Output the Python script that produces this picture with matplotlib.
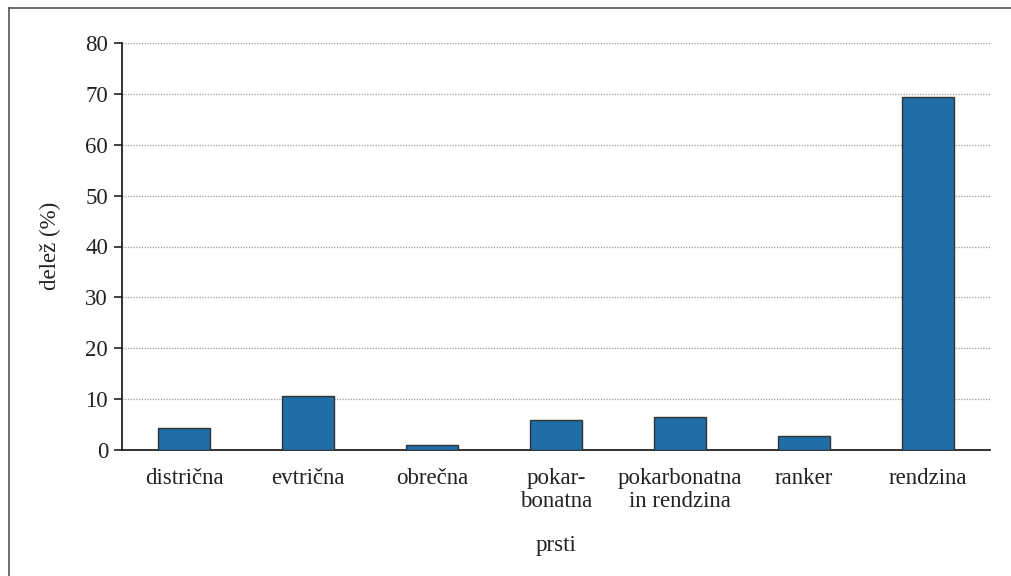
import matplotlib
matplotlib.use("Agg")
import matplotlib.pyplot as plt
from matplotlib.lines import Line2D

categories = ["distrična", "evtrična", "obrečna", "pokar-\nbonatna",
              "pokarbonatna\nin rendzina", "ranker", "rendzina"]
values = [4.3, 10.7, 1.0, 5.9, 6.5, 2.7, 69.4]
yticks = [0, 10, 20, 30, 40, 50, 60, 70, 80]

plt.rcParams['font.family'] = ['Liberation Serif', 'DejaVu Serif']

W, H = 1011, 576
fig = plt.figure(figsize=(W / 100, H / 100), dpi=100)
ax = fig.add_axes([122 / W, 1 - 450 / H, (990 - 122) / W, (450 - 43) / H])

x = list(range(len(categories)))
ax.bar(x, values, width=0.42, color="#1f6ea8", edgecolor="#333333", linewidth=1.0, zorder=3)

ax.set_xlim(-0.5, len(categories) - 0.5)
ax.set_ylim(0, 80)
ax.set_yticks(yticks)
ax.set_xticks(x)
ax.set_xticklabels(categories, fontsize=16.5, linespacing=1.12, color="#222222")
ax.tick_params(axis='x', length=0, pad=13)
ax.tick_params(axis='y', length=6, width=1.2, direction='out', labelsize=16.5, pad=4, colors="#222222")
ax.yaxis.grid(True, linestyle=(0, (1, 1.2)), color="#999999", linewidth=0.9, zorder=0)
ax.set_axisbelow(True)
for s in ['top', 'right']:
    ax.spines[s].set_visible(False)
for s in ['left', 'bottom']:
    ax.spines[s].set_linewidth(1.3)
    ax.spines[s].set_color("#222222")

fig.text(50 / W, 1 - 246 / H, "delež (%)", rotation=90, ha='center', va='center',
         fontsize=16.5, color="#222222")
fig.text(556 / W, 1 - 545 / H, "prsti", ha='center', va='center', fontsize=16.5, color="#222222")

# outer frame (top and left)
fig.add_artist(Line2D([9 / W, 9 / W], [0, 1 - 8 / H], transform=fig.transFigure,
                      color="#555555", linewidth=1.2))
fig.add_artist(Line2D([9 / W, 1], [1 - 8 / H, 1 - 8 / H], transform=fig.transFigure,
                      color="#555555", linewidth=1.2))

fig.savefig("out.png", dpi=100)
